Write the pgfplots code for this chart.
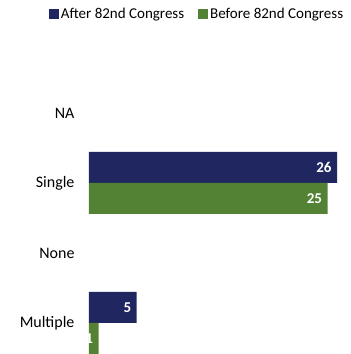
\documentclass[border=0pt]{standalone}
\usepackage{pgfplots}
\pgfplotsset{compat=1.18}
\usepackage{fontspec}
\setmainfont{Carlito}
\definecolor{navy}{RGB}{32,38,96}
\definecolor{grn}{RGB}{84,130,53}
\begin{document}
\begin{tikzpicture}
\path[use as bounding box] (0,0) rectangle (351pt,354pt);
\begin{axis}[
  at={(89pt,0pt)}, anchor=south west,
  scale only axis, width=262pt, height=354pt,
  xbar, bar width=31pt,
  xmin=0, xmax=27.46,
  y dir=reverse, ymin=-1.614, ymax=3.443,
  ytick={0,1,2,3}, yticklabels={NA,Single,None,Multiple},
  xtick=\empty,
  major tick length=0pt,
  axis line style={draw=none},
  /pgf/number format/assume math mode=true,
  yticklabel style={font=\fontsize{16}{18}\selectfont, xshift=-11pt},
  nodes near coords,
  nodes near coords style={font=\bfseries\fontsize{15}{17}\selectfont, text=white, anchor=east, xshift=-2pt},
  legend style={at={(rel axis cs:0.99,0.99)}, anchor=north east, draw=none, fill=none,
    font=\fontsize{15}{17}\selectfont, legend columns=2,
    /tikz/every even column/.append style={column sep=12pt}},
  legend image code/.code={\fill[#1] (0pt,-5pt) rectangle (10pt,5pt);},
]
\addplot[fill=navy, draw=none, bar shift=15.5pt] coordinates {(26,1) (5,3)};
\addplot[fill=grn, draw=none, bar shift=-15.5pt] coordinates {(25,1) (1,3)};
\legend{After 82nd Congress, Before 82nd Congress}
\end{axis}
\end{tikzpicture}
\end{document}
